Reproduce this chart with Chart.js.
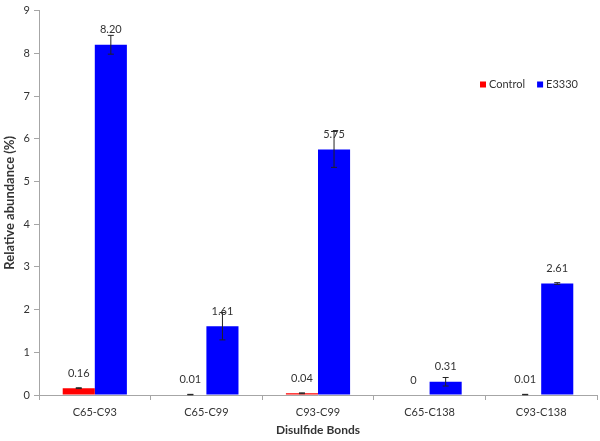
<!DOCTYPE html>
<html>
<head>
<meta charset="utf-8">
<script src="https://cdn.jsdelivr.net/npm/chart.js@4/dist/chart.umd.min.js"></script>
<style>
  html, body { margin: 0; padding: 0; background: #fff; }
  #wrap { width: 600px; height: 441px; position: relative; }
</style>
</head>
<body>
<div id="wrap"><canvas id="chart"></canvas></div>
<script>
// Data
const bonds = ['C65-C93', 'C65-C99', 'C93-C99', 'C65-C138', 'C93-C138'];
const controlValues = [0.16, 0.01, 0.04, 0, 0.01];
const controlErrors = [0.01, 0.005, 0.01, 0, 0.005];
const e3330Values = [8.20, 1.61, 5.75, 0.31, 2.61];
const e3330Errors = [0.22, 0.32, 0.42, 0.10, 0.02];
const yTicks = [0, 1, 2, 3, 4, 5, 6, 7, 8, 9];

const FONT = 'Lato, "Open Sans", sans-serif';
const TEXT = '#333';

// error bars + value labels
const barExtras = {
    id: 'barExtras',
    afterDatasetsDraw(chart) {
        const ctx = chart.ctx;
        const y = chart.scales.y;
        ctx.save();
        chart.data.datasets.forEach((ds, i) => {
            const meta = chart.getDatasetMeta(i);
            meta.data.forEach((bar, j) => {
                const v = ds.data[j];
                const e = ds.errors[j];
                const yHi = y.getPixelForValue(v + e);
                const yLo = y.getPixelForValue(v - e);
                if (e > 0) {
                    ctx.strokeStyle = '#222';
                    ctx.lineWidth = 1;
                    ctx.beginPath();
                    ctx.moveTo(bar.x, yHi); ctx.lineTo(bar.x, yLo);
                    ctx.moveTo(bar.x - 3, yHi); ctx.lineTo(bar.x + 3, yHi);
                    ctx.moveTo(bar.x - 3, yLo); ctx.lineTo(bar.x + 3, yLo);
                    ctx.stroke();
                }
                ctx.fillStyle = TEXT;
                ctx.font = '11px ' + FONT;
                ctx.textAlign = 'center';
                ctx.textBaseline = 'middle';
                const label = v === 0 ? '0' : v.toFixed(2);
                ctx.fillText(label, bar.x, bar.y - 15);
            });
        });
        ctx.restore();
    }
};

// legend inside the plot
const insideLegend = {
    id: 'insideLegend',
    afterDraw(chart) {
        const ctx = chart.ctx;
        ctx.save();
        ctx.font = '11px ' + FONT;
        ctx.textBaseline = 'middle';
        ctx.textAlign = 'left';
        let x = 480;
        const yc = 84.5;
        chart.data.datasets.forEach(ds => {
            ctx.fillStyle = ds.backgroundColor;
            ctx.fillRect(x, yc - 3, 6, 6);
            ctx.fillStyle = TEXT;
            ctx.fillText(ds.label, x + 9, yc);
            x += 9 + ctx.measureText(ds.label).width + 12;
        });
        ctx.restore();
    }
};

new Chart(document.getElementById('chart'), {
    type: 'bar',
    data: {
        labels: bonds,
        datasets: [{
            label: 'Control',
            data: controlValues,
            errors: controlErrors,
            backgroundColor: '#ff0000',
            borderWidth: 0
        }, {
            label: 'E3330',
            data: e3330Values,
            errors: e3330Errors,
            backgroundColor: '#0000ff',
            borderWidth: 0
        }]
    },
    options: {
        responsive: true,
        maintainAspectRatio: false,
        animation: false,
        datasets: { bar: { categoryPercentage: 0.575, barPercentage: 1 } },
        layout: { padding: { top: 6, right: 3, left: 0, bottom: 0 } },
        plugins: { legend: { display: false }, tooltip: { enabled: false } },
        scales: {
            x: {
                border: { color: '#a6a6a6' },
                grid: { offset: true, drawOnChartArea: false, tickLength: 5, color: '#a6a6a6' },
                ticks: { color: TEXT, font: { family: FONT, size: 11 }, padding: 6, maxRotation: 0 },
                title: { display: true, text: 'Disulfide Bonds', color: TEXT, font: { family: FONT, size: 12, weight: 'bold' }, padding: { top: 5 } },
                afterFit(scale) { scale.height = 46; }
            },
            y: {
                min: 0,
                max: 9,
                border: { color: '#a6a6a6' },
                grid: { drawOnChartArea: false, tickLength: 5, color: '#a6a6a6' },
                afterBuildTicks(scale) { scale.ticks = yTicks.map(v => ({ value: v })); },
                ticks: { color: TEXT, font: { family: FONT, size: 11 }, padding: 4 },
                title: { display: true, text: 'Relative abundance (%)', color: TEXT, font: { family: FONT, size: 13, weight: 'bold' }, padding: { top: 2 } },
                afterFit(scale) { scale.width = 39; }
            }
        }
    },
    plugins: [barExtras, insideLegend]
});
</script>
</body>
</html>
